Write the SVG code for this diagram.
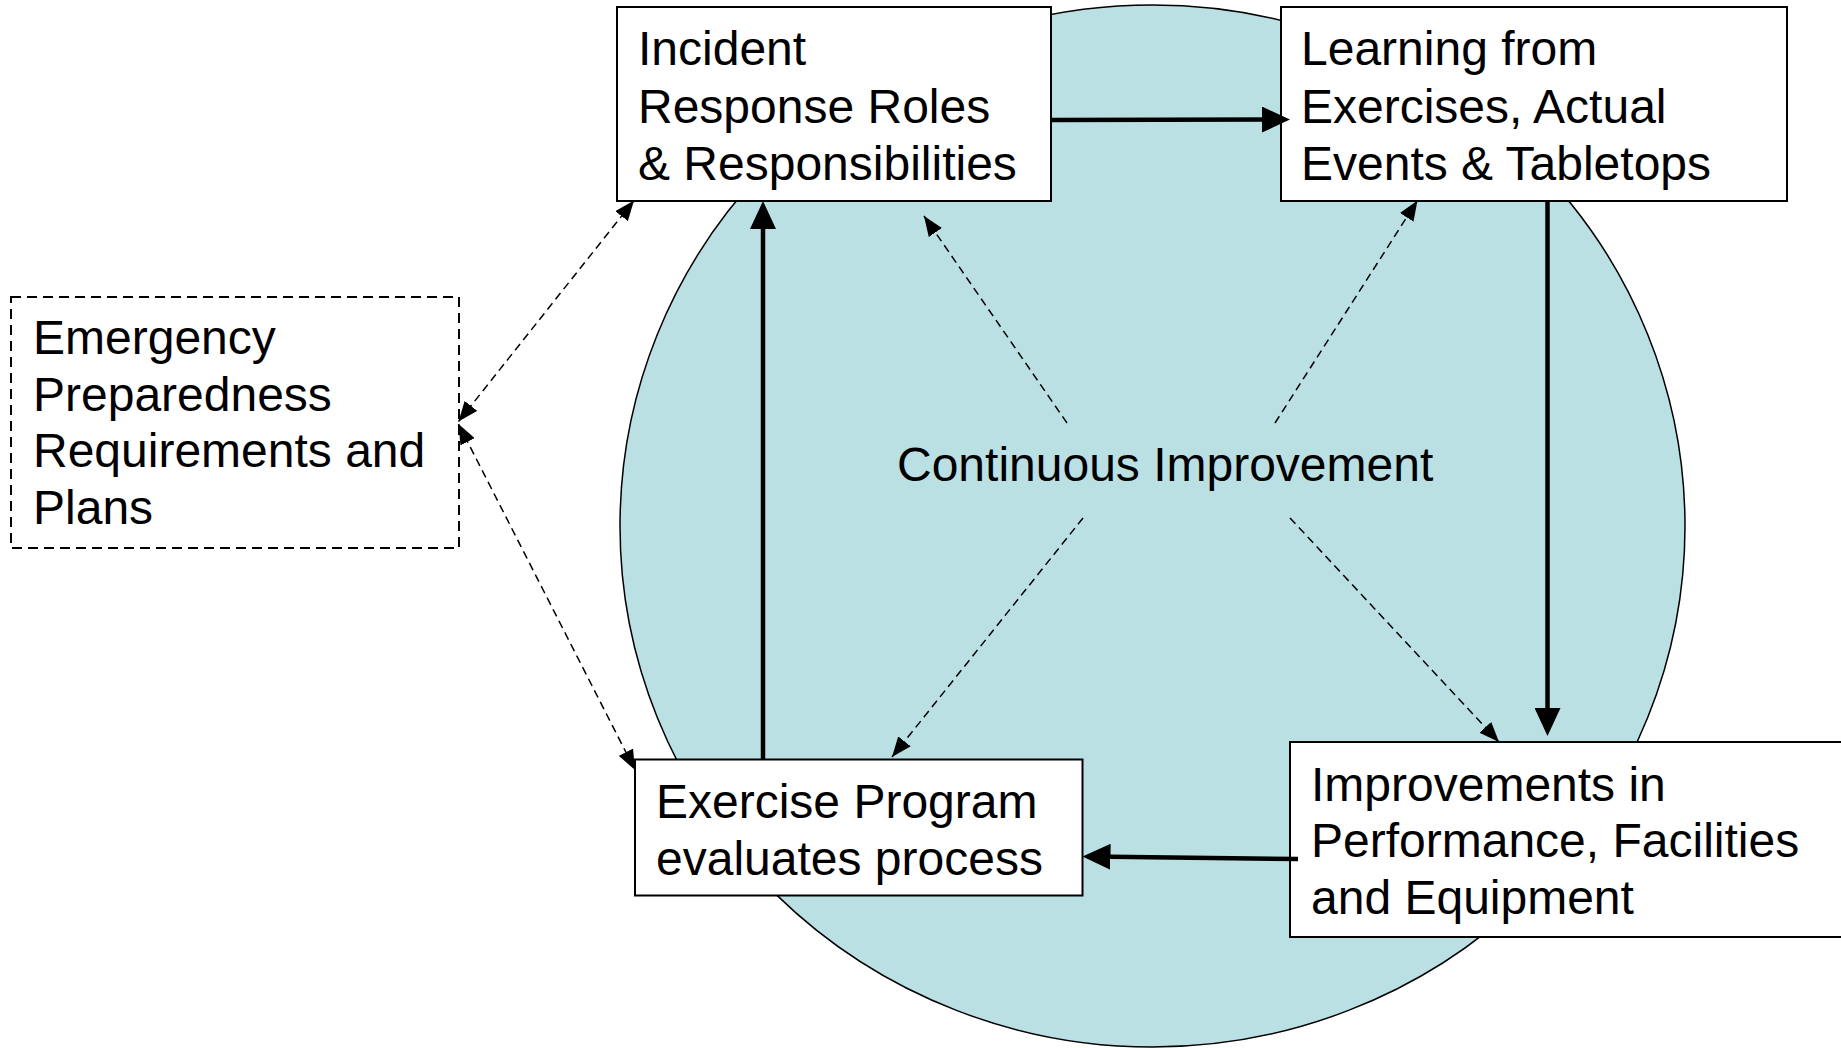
<svg xmlns="http://www.w3.org/2000/svg" width="1841" height="1048" viewBox="0 0 1841 1048">
<style>
.box{fill:#ffffff;stroke:#000000;stroke-width:2}
.dbox{fill:#ffffff;stroke:#000000;stroke-width:2;stroke-dasharray:10 6}
.t{font-family:"Liberation Sans",Arial,sans-serif;font-size:48px;fill:#000000}
.thick{stroke:#000000;stroke-width:4.5;fill:none}
.dash{stroke:#000000;stroke-width:1.5;fill:none;stroke-dasharray:8 5}
</style>
<defs>
<marker id="ah" markerUnits="userSpaceOnUse" markerWidth="28" markerHeight="26" refX="20" refY="13" orient="auto">
<path d="M0,0 L28,13 L0,26 z" fill="#000000"/>
</marker>
<marker id="dh" markerUnits="userSpaceOnUse" markerWidth="20" markerHeight="16" refX="20" refY="8" orient="auto-start-reverse">
<path d="M0,0 L20,8 L0,16 z" fill="#000000"/>
</marker>
</defs>
<rect x="0" y="0" width="1841" height="1048" fill="#ffffff"/>
<ellipse id="circle" cx="1152.5" cy="526" rx="532.5" ry="521" fill="#BAE0E3" stroke="#000000" stroke-width="1.5"/>
<g id="incident">
<rect class="box" x="617" y="7" width="434" height="194"/>
<text class="t" x="638" y="65">Incident</text>
<text class="t" x="638" y="122.5">Response Roles</text>
<text class="t" x="638" y="180">&amp; Responsibilities</text>
</g>
<g id="learning">
<rect class="box" x="1281" y="7" width="506" height="194"/>
<text class="t" x="1301" y="65">Learning from</text>
<text class="t" x="1301" y="122.5">Exercises, Actual</text>
<text class="t" x="1301" y="180">Events &amp; Tabletops</text>
</g>
<g id="emergency">
<rect class="dbox" x="11" y="297" width="448" height="251"/>
<text class="t" x="33" y="354">Emergency</text>
<text class="t" x="33" y="411">Preparedness</text>
<text class="t" x="33" y="467">Requirements and</text>
<text class="t" x="33" y="523.5">Plans</text>
</g>
<g id="exercise">
<rect class="box" x="635" y="759.5" width="447.5" height="136"/>
<text class="t" x="656" y="817.5">Exercise Program</text>
<text class="t" x="656" y="874.5">evaluates process</text>
</g>
<g id="improvements">
<rect class="box" x="1290" y="742" width="560" height="195"/>
<text class="t" x="1311" y="800.5">Improvements in</text>
<text class="t" x="1311" y="857">Performance, Facilities</text>
<text class="t" x="1311" y="913.5">and Equipment</text>
</g>
<g id="center">
<text class="t" x="897" y="481">Continuous Improvement</text>
</g>
<g id="connectors">
<line class="thick" x1="1051" y1="120" x2="1282" y2="119.5" marker-end="url(#ah)"/>
<line class="thick" x1="1547.5" y1="201" x2="1547.5" y2="728" marker-end="url(#ah)"/>
<line class="thick" x1="1298" y1="859" x2="1090.5" y2="856.5" marker-end="url(#ah)"/>
<line class="thick" x1="763" y1="759" x2="763" y2="209" marker-end="url(#ah)"/>
<line class="dash" x1="458.5" y1="421.5" x2="634" y2="200.5" marker-start="url(#dh)" marker-end="url(#dh)"/>
<line class="dash" x1="458.5" y1="424" x2="635" y2="770" marker-start="url(#dh)" marker-end="url(#dh)"/>
<line class="dash" x1="1067" y1="423" x2="924" y2="216" marker-end="url(#dh)"/>
<line class="dash" x1="1275" y1="423" x2="1417.5" y2="200.5" marker-end="url(#dh)"/>
<line class="dash" x1="1083" y1="518" x2="892" y2="757" marker-end="url(#dh)"/>
<line class="dash" x1="1290" y1="518" x2="1499" y2="742" marker-end="url(#dh)"/>
</g>
</svg>
